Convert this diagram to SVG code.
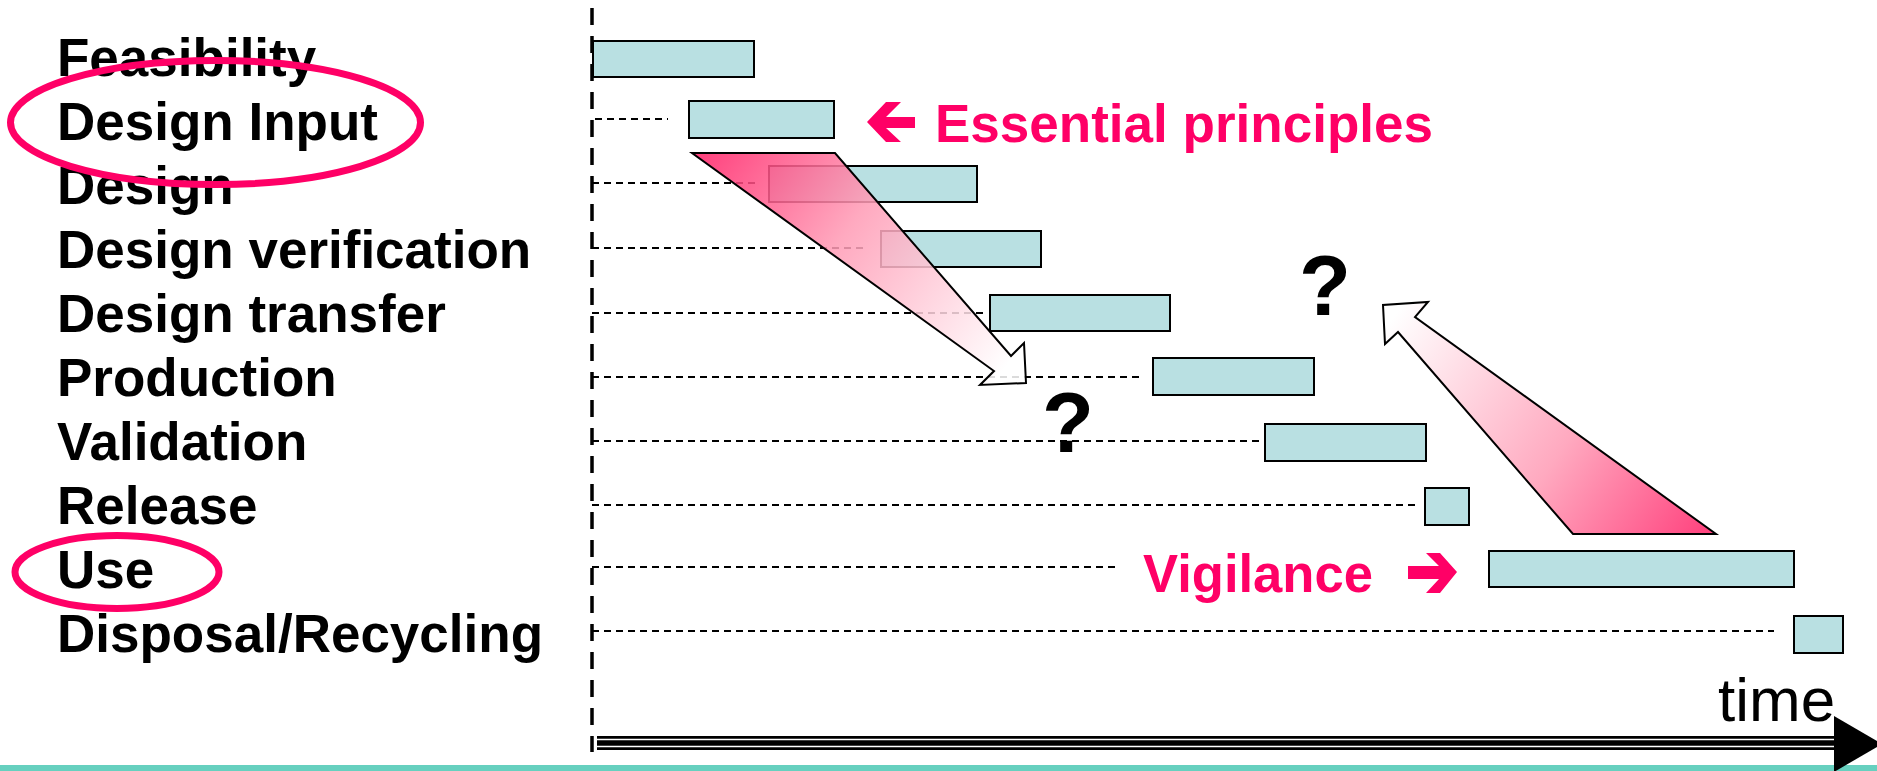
<svg xmlns="http://www.w3.org/2000/svg" width="1877" height="771" viewBox="0 0 1877 771">
  <style>
    .label { font-family: "Liberation Sans", Arial, sans-serif; font-weight: bold; font-size: 53px; fill: #000; }
    .note { font-family: "Liberation Sans", Arial, sans-serif; font-weight: bold; font-size: 53px; fill: #FF0066; }
    .ask { font-family: "Liberation Sans", Arial, sans-serif; font-weight: bold; font-size: 85px; fill: #000; text-anchor: middle; }
    .time { font-family: "Liberation Sans", Arial, sans-serif; font-size: 62px; fill: #000; }
    .bar { fill: #B9E0E2; stroke: #000; stroke-width: 2; }
    .lead { stroke: #000; stroke-width: 2; stroke-dasharray: 7 5; fill: none; }
    .ring { fill: none; stroke: #FF0066; stroke-width: 7; }
    .flow { stroke: #000; stroke-width: 2; stroke-linejoin: miter; fill-opacity: 0.86; }
    .mark { fill: #FF0066; }
  </style>
  <defs>
    <linearGradient id="gradDown" gradientUnits="userSpaceOnUse" x1="692" y1="153" x2="1000" y2="375">
      <stop offset="0" stop-color="#FF1F66"/>
      <stop offset="0.45" stop-color="#FF9BB5"/>
      <stop offset="1" stop-color="#FFFFFF"/>
    </linearGradient>
    <linearGradient id="gradUp" gradientUnits="userSpaceOnUse" x1="1716" y1="534" x2="1395" y2="315">
      <stop offset="0" stop-color="#FF1F66"/>
      <stop offset="0.45" stop-color="#FF9BB5"/>
      <stop offset="1" stop-color="#FFFFFF"/>
    </linearGradient>
  </defs>

  <rect width="1877" height="771" fill="#FFFFFF"/>

  <!-- leader lines from the time origin to each phase bar -->
  <g id="connectors">
    <line x1="592" y1="8" x2="592" y2="752" stroke="#000" stroke-width="3.5" stroke-dasharray="17 11"/>
    <line class="lead" x1="595" y1="119" x2="668" y2="119"/>
    <line class="lead" x1="592" y1="183" x2="759" y2="183"/>
    <line class="lead" x1="592" y1="248" x2="868" y2="248"/>
    <line class="lead" x1="592" y1="313" x2="987" y2="313"/>
    <line class="lead" x1="592" y1="377" x2="1144" y2="377"/>
    <line class="lead" x1="592" y1="441" x2="1262" y2="441"/>
    <line class="lead" x1="592" y1="505" x2="1418" y2="505"/>
    <line class="lead" x1="592" y1="567" x2="1120" y2="567"/>
    <line class="lead" x1="592" y1="631" x2="1774" y2="631"/>
  </g>

  <!-- phases: label and duration bar -->
  <g id="feasibility">
    <text class="label" x="57" y="76">Feasibility</text>
    <rect class="bar" x="593" y="41" width="161" height="36"/>
  </g>
  <g id="design-input">
    <text class="label" x="57" y="140">Design Input</text>
    <rect class="bar" x="689" y="101" width="145" height="37"/>
  </g>
  <g id="design">
    <text class="label" x="57" y="204">Design</text>
    <rect class="bar" x="769" y="166" width="208" height="36"/>
  </g>
  <g id="design-verification">
    <text class="label" x="57" y="268">Design verification</text>
    <rect class="bar" x="881" y="231" width="160" height="36"/>
  </g>
  <g id="design-transfer">
    <text class="label" x="57" y="332">Design transfer</text>
    <rect class="bar" x="990" y="295" width="180" height="36"/>
  </g>
  <g id="production">
    <text class="label" x="57" y="396">Production</text>
    <rect class="bar" x="1153" y="358" width="161" height="37"/>
  </g>
  <g id="validation">
    <text class="label" x="57" y="460">Validation</text>
    <rect class="bar" x="1265" y="424" width="161" height="37"/>
  </g>
  <g id="release">
    <text class="label" x="57" y="524">Release</text>
    <rect class="bar" x="1425" y="488" width="44" height="37"/>
  </g>
  <g id="use">
    <text class="label" x="57" y="588">Use</text>
    <rect class="bar" x="1489" y="551" width="305" height="36"/>
  </g>
  <g id="disposal">
    <text class="label" x="57" y="652">Disposal/Recycling</text>
    <rect class="bar" x="1794" y="616" width="49" height="37"/>
  </g>

  <!-- highlight rings -->
  <g id="highlights">
    <ellipse class="ring" cx="215.5" cy="122.5" rx="205" ry="62"/>
    <ellipse class="ring" cx="117" cy="572" rx="102" ry="36.5"/>
  </g>

  <!-- feed-forward and feedback arrows -->
  <g id="flows">
    <polygon class="flow" fill="url(#gradDown)" points="692,153 835,153 1011,356 1024,343 1026,383 980,385 994,371"/>
    <polygon class="flow" fill="url(#gradUp)" points="1573,534 1716,534 1415,317 1428,302 1383,305 1385,344 1398,332"/>
    <text class="ask" x="1068" y="452">?</text>
    <text class="ask" x="1325" y="315">?</text>
  </g>

  <!-- annotations -->
  <g id="essential-principles">
    <polygon class="mark" points="867,122 886,102 901,102 886,117 915,117 915,128 886,128 901,142 886,142"/>
    <text class="note" x="935" y="142" textLength="498" lengthAdjust="spacingAndGlyphs">Essential principles</text>
  </g>
  <g id="vigilance">
    <text class="note" x="1143" y="592" textLength="230" lengthAdjust="spacingAndGlyphs">Vigilance</text>
    <polygon class="mark" points="1457,572 1440,553 1426,553 1439,566 1408,566 1408,579 1439,579 1426,593 1440,593"/>
  </g>

  <!-- time axis -->
  <g id="time-axis">
    <rect x="0" y="765" width="1877" height="6" fill="#66D0BF"/>
    <rect x="597" y="736" width="1240" height="14" fill="#000"/>
    <line x1="597" y1="739.5" x2="1837" y2="739.5" stroke="#FFF" stroke-width="1.6"/>
    <line x1="597" y1="746.5" x2="1837" y2="746.5" stroke="#FFF" stroke-width="1.6"/>
    <polygon points="1834,716 1882,744 1834,772" fill="#000"/>
    <text class="time" x="1718" y="721">time</text>
  </g>
</svg>
